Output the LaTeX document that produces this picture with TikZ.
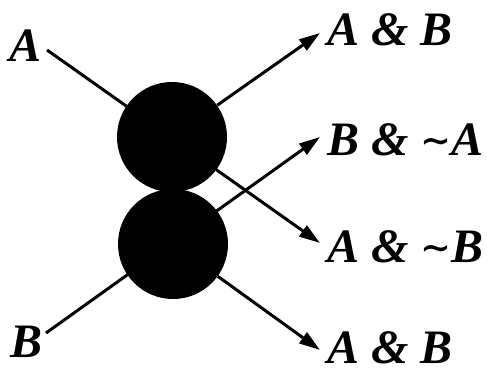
\documentclass[tikz,border=0pt]{standalone}
\usepackage{fontspec}
\setmainfont{Liberation Serif}[BoldItalicFont={Liberation Serif Bold Italic}]
\newfontfamily\symfont{DejaVu Serif}
\usetikzlibrary{arrows.meta,backgrounds}
\newcommand{\mytil}{\raisebox{2pt}{\fontsize{37}{40}\selectfont\symfont\bfseries ∼}}
\begin{document}
\begin{tikzpicture}[x=1pt,y=-1pt,
  ball/.style={circle,fill=black,minimum size=110pt,inner sep=0pt},
  lbl/.style={anchor=base west,inner sep=0pt,font=\fontsize{48}{52}\selectfont\bfseries\itshape},
  wire/.style={line width=3pt},
  arr/.style={wire,-{Triangle[length=21pt,width=13pt]}}]
\useasboundingbox (0,0) rectangle (487,373);
\node[ball] (c1) at (172,137) {};
\node[ball] (c2) at (173,244) {};
\node[lbl] (la) at (9,61) {A};
\node[lbl] (lb) at (10,357) {B};
\node[lbl] (o1) at (327,45) {A \& B};
\node[lbl] (o2) at (327,155) {B \& \mytil A};
\node[lbl] (o3) at (327,262) {A \& \mytil B};
\node[lbl] (o4) at (327,363) {A \& B};
\coordinate (a0) at (47,50);
\coordinate (b0) at (46,333);
\coordinate (t1) at (320,33);
\coordinate (t2) at (320,137);
\coordinate (t3) at (320,243);
\coordinate (t4) at (320,350);
\begin{scope}[on background layer]
\draw[arr] (a0) -- (t3);
\draw[arr] (b0) -- (t2);
\draw[arr] (c1) -- (t1);
\draw[arr] (c2) -- (t4);
\end{scope}
\end{tikzpicture}
\end{document}
